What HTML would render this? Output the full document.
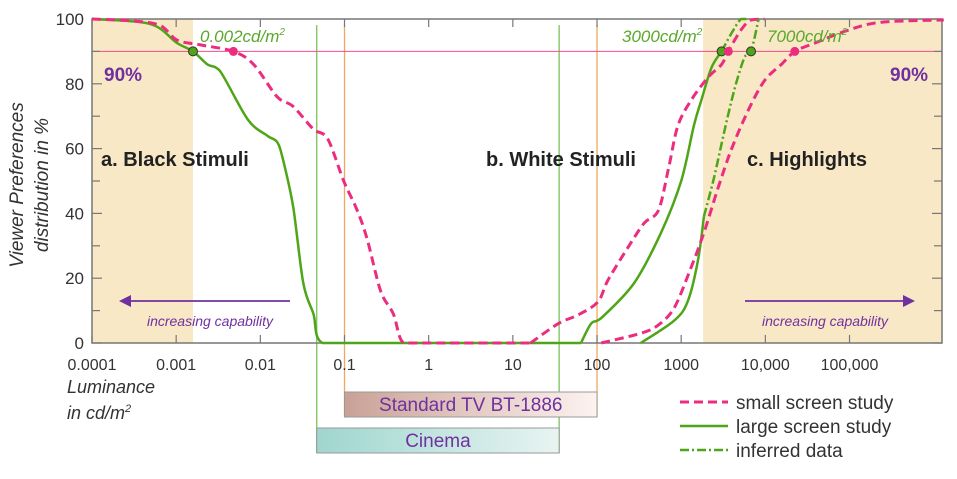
<!DOCTYPE html>
<html><head><meta charset="utf-8"><style>
body{margin:0;background:#fff;}
svg text{font-family:"Liberation Sans",sans-serif;}
</style></head><body>
<svg id="c" width="957" height="474" viewBox="0 0 957 474" xmlns="http://www.w3.org/2000/svg">
<defs>
<linearGradient id="gtv" x1="0" x2="1"><stop offset="0" stop-color="#c9a196"/><stop offset="1" stop-color="#fdf3f0"/></linearGradient>
<linearGradient id="gcin" x1="0" x2="1"><stop offset="0" stop-color="#9fd6cf"/><stop offset="1" stop-color="#e8f4f2"/></linearGradient>
</defs>
<g id="plot"></g>
</svg>
<script>
const xTickValues=[-4,-3,-2,-1,0,1,2,3,4,5];
const xTickLabels=["0.0001","0.001","0.01","0.1","1","10","100","1000","10,000","100,000"];
const yTickValues=[0,20,40,60,80,100];
// log10(luminance), percent
const smallBlackX=[-4,-3.51,-3.19,-2.99,-2.71,-2.32,-2.08,-1.80,-1.61,-1.37,-1.20,-1.01,-0.85,-0.73,-0.57,-0.42,-0.30,0,1,1.21];
const smallBlackY=[100,99.4,98,93.5,92,90,86,76,73,66,63,50,41,32,16,9,0,0,0,0];
const largeBlackX=[-4,-3.31,-2.99,-2.80,-2.63,-2.48,-2.15,-1.92,-1.80,-1.73,-1.61,-1.49,-1.37,-1.26,0,1.81];
const largeBlackY=[100,98.5,92.6,90,86,84,69,64,62,56.5,42,18.5,9,0,0,0];
const smallWhiteX=[1.21,1.54,1.77,2.01,2.13,2.37,2.56,2.73,2.85,2.96,3.12,3.32,3.48,3.56,3.71,3.83,3.99];
const smallWhiteY=[0,6,8.6,12.7,19.4,29.6,37,41,54,67,75,82,86,90,96.6,99.7,100];
const largeWhiteX=[1.81,1.93,2.05,2.44,2.76,3.00,3.15,3.24,3.36,3.48];
const largeWhiteY=[0,6,7.7,18.5,34,50,67,75,85,90];
const inferWhiteX=[3.48,3.60,3.71,3.80];
const inferWhiteY=[90,95.7,100,100];
const smallHighX=[2.05,2.52,2.73,2.92,3.12,3.27,3.44,3.60,3.80,3.99,4.19,4.35,4.58,4.99,5.38,6.12];
const smallHighY=[0,3,5.6,11,23.5,34,48,60,72,81,86,90,92.5,96.6,99,99.7];
const largeHighX=[2.52,2.92,3.08,3.20,3.27];
const largeHighY=[0,7,13,25.6,39];
const inferHighX=[3.27,3.39,3.51,3.63,3.75,3.83,3.92];
const inferHighY=[39,51,65,78,88,90,100];
const markerX=[-2.80,-2.32,3.48,3.56,3.83,4.35];
const markerKind=["large","small","large","small","large","small"];

const L=92,R=942,T=19,B=343,PX=84.17;
const X=v=>L+(v+4)*PX;
const Y=p=>B-(p/100)*(B-T);
const NS="http://www.w3.org/2000/svg";
const g=document.getElementById('plot');
function mk(tag,attrs,parent){const e=document.createElementNS(NS,tag);for(const k in attrs)e.setAttribute(k,attrs[k]);(parent||g).appendChild(e);return e;}
function txt(s,attrs,name){const e=mk('text',attrs);e.innerHTML=s;
return e;}

let r=mk('rect',{x:L,y:T,width:X(-2.8)-L,height:B-T,fill:'#f8e8c6'});


r=mk('rect',{x:X(3.26),y:T,width:R-X(3.26),height:B-T,fill:'#f8e8c6'});



[[ -1.33,'#7cc35a','cinema-left-line',453],[1.55,'#7cc35a','cinema-right-line',453],[-1,'#f0a860','tv-left-line',417],[2,'#f0a860','tv-right-line',417]].forEach(a=>{
 const l=mk('line',{x1:X(a[0]),x2:X(a[0]),y1:25,y2:a[3],stroke:a[1],'stroke-width':1.3});
 
 
});

let hl=mk('line',{x1:L,x2:R,y1:Y(90),y2:Y(90),stroke:'#f24b92','stroke-width':1});



let fr=mk('rect',{x:L,y:T,width:R-L,height:B-T,fill:'none',stroke:'#777','stroke-width':1.5});



for(let p=0;p<=100;p+=10){
 const len=p%20===0?10:8;
 mk('line',{x1:L,x2:L+len,y1:Y(p),y2:Y(p),stroke:'#777','stroke-width':1.2});
 mk('line',{x1:R-len,x2:R,y1:Y(p),y2:Y(p),stroke:'#777','stroke-width':1.2});
}
yTickValues.forEach(v=>{txt(String(v),{x:84,y:Y(v)+6,'font-size':17,'text-anchor':'end',fill:'#333'},'y-tick-label');});
xTickValues.forEach((v,i)=>{
 mk('line',{x1:X(v),x2:X(v),y1:B-8,y2:B,stroke:'#777','stroke-width':1.2});
 mk('line',{x1:X(v),x2:X(v),y1:T,y2:T+8,stroke:'#777','stroke-width':1.2});
 txt(xTickLabels[i],{x:X(v),y:370,'font-size':16,'text-anchor':'middle',fill:'#333'},'x-tick-label');
});

function clamp(v,a,b){const lo=Math.min(a,b),hi=Math.max(a,b);return Math.max(lo,Math.min(hi,v));}
function line(xs,ys,color,dash,name,w){
 const P=xs.map((x,i)=>[X(x),Y(ys[i])]);
 let d='M'+P[0][0].toFixed(1)+' '+P[0][1].toFixed(1);
 for(let i=0;i<P.length-1;i++){
  const p0=P[i-1]||P[i],p1=P[i],p2=P[i+1],p3=P[i+2]||P[i+1];
  const t=0.16;
  const c1=[clamp(p1[0]+(p2[0]-p0[0])*t,p1[0],p2[0]),clamp(p1[1]+(p2[1]-p0[1])*t,p1[1],p2[1])];
  const c2=[clamp(p2[0]-(p3[0]-p1[0])*t,p1[0],p2[0]),clamp(p2[1]-(p3[1]-p1[1])*t,p1[1],p2[1])];
  d+=' C'+c1[0].toFixed(1)+' '+c1[1].toFixed(1)+' '+c2[0].toFixed(1)+' '+c2[1].toFixed(1)+' '+p2[0].toFixed(1)+' '+p2[1].toFixed(1);
 }
 const p=mk('path',{d:d,fill:'none',stroke:color,'stroke-width':w||3,'stroke-dasharray':dash||'none','stroke-linejoin':'round'});
 
 
}
const PINK='#ec2d7f',GREEN='#4ea517';
line(largeBlackX,largeBlackY,GREEN,null,'large-screen-black-line',2.5);
line(smallBlackX,smallBlackY,PINK,'9 5','small-screen-black-line');
line(largeWhiteX,largeWhiteY,GREEN,null,'large-screen-white-line',2.5);
line(inferWhiteX,inferWhiteY,GREEN,'9 3 2 3','inferred-white-line',2.5);
line(smallWhiteX,smallWhiteY,PINK,'9 5','small-screen-white-line');
line(largeHighX,largeHighY,GREEN,null,'large-screen-highlight-line',2.5);
line(inferHighX,inferHighY,GREEN,'9 3 2 3','inferred-highlight-line',2.5);
line(smallHighX,smallHighY,PINK,'9 5','small-screen-highlight-line');

markerX.forEach((v,i)=>{
 const c=mk('circle',{cx:X(v),cy:Y(90),r:4.5,fill:markerKind[i]==='large'?GREEN:PINK,stroke:'#333','stroke-width':markerKind[i]==='large'?1:0});
 
 
});

const it={'font-size':17,'font-style':'italic',fill:'#5aa82a'};
txt('0.002cd/m<tspan dy="-7" font-size="10">2</tspan>',Object.assign({x:200,y:42},it),'black-threshold-label');
txt('3000cd/m<tspan dy="-7" font-size="10">2</tspan>',Object.assign({x:622,y:42},it),'white-threshold-label');
txt('7000cd/m<tspan dy="-7" font-size="10">2</tspan>',Object.assign({x:767,y:42},it),'highlight-threshold-label');
txt('90%',{x:104,y:81,'font-size':19,'font-weight':'bold',fill:'#7030a0'},'ninety-percent-left-label');
txt('90%',{x:890,y:81,'font-size':19,'font-weight':'bold',fill:'#7030a0'},'ninety-percent-right-label');
txt('a. Black Stimuli',{x:101,y:166,'font-size':20,'font-weight':'bold',fill:'#222'},'black-stimuli-label');
txt('b. White Stimuli',{x:486,y:166,'font-size':20,'font-weight':'bold',fill:'#222'},'white-stimuli-label');
txt('c. Highlights',{x:747,y:166,'font-size':20,'font-weight':'bold',fill:'#222'},'highlights-label');
mk('line',{x1:290,x2:128,y1:301,y2:301,stroke:'#7030a0','stroke-width':1.8});
mk('polygon',{points:'119,301 131,295 131,307',fill:'#7030a0'});
mk('line',{x1:745,x2:905,y1:301,y2:301,stroke:'#7030a0','stroke-width':1.8});
mk('polygon',{points:'915,301 903,295 903,307',fill:'#7030a0'});
txt('increasing capability',{x:210,y:326,'font-size':14,'font-style':'italic','text-anchor':'middle',fill:'#7030a0'},'left-capability-label');
txt('increasing capability',{x:825,y:326,'font-size':14,'font-style':'italic','text-anchor':'middle',fill:'#7030a0'},'right-capability-label');

txt('Viewer Preferences',{x:0,y:0,'font-size':19,'font-style':'italic','text-anchor':'middle',fill:'#333',transform:'translate(23,185) rotate(-90)'},'y-axis-title-line1');
txt('distribution in %',{x:0,y:0,'font-size':19,'font-style':'italic','text-anchor':'middle',fill:'#333',transform:'translate(48,185) rotate(-90)'},'y-axis-title-line2');
txt('Luminance',{x:67,y:393,'font-size':18,'font-style':'italic',fill:'#333'},'x-axis-title-line1');
txt('in cd/m<tspan dy="-7" font-size="11">2</tspan>',{x:67,y:419,'font-size':18,'font-style':'italic',fill:'#333'},'x-axis-title-line2');

let b=mk('rect',{x:X(-1),y:392,width:X(2)-X(-1),height:25,fill:'url(#gtv)',stroke:'#999','stroke-width':1});


txt('Standard TV BT-1886',{x:(X(-1)+X(2))/2,y:411,'font-size':19,'text-anchor':'middle',fill:'#7030a0'},'standard-tv-label');
b=mk('rect',{x:X(-1.33),y:428,width:X(1.55)-X(-1.33),height:25,fill:'url(#gcin)',stroke:'#999','stroke-width':1});


txt('Cinema',{x:(X(-1.33)+X(1.55))/2,y:447,'font-size':19,'text-anchor':'middle',fill:'#7030a0'},'cinema-label');

[['small screen study',PINK,'9 5',3],['large screen study',GREEN,null,2.5],['inferred data',GREEN,'9 3 2 3',2.5]].forEach((a,i)=>{
 const y=402+i*24;
 const l=mk('line',{x1:680,x2:728,y1:y,y2:y,stroke:a[1],'stroke-width':a[3],'stroke-dasharray':a[2]||'none'});
 
 
 txt(a[0],{x:736,y:y+7,'font-size':19,fill:'#333'},'legend-entry');
});
</script>
</body></html>
